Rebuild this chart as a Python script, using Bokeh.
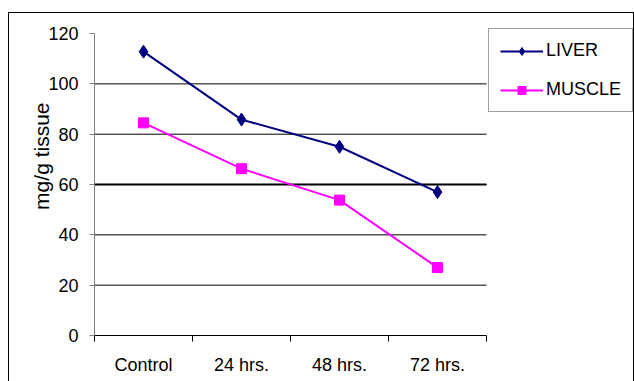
from bokeh.plotting import figure
from bokeh.models import (FixedTicker, Legend, LegendItem, Range1d, Title,
                          InlineStyleSheet)
from bokeh.embed import file_html
from bokeh.resources import INLINE

categories = ["Control", "24 hrs.", "48 hrs.", "72 hrs."]
liver = [112.8, 85.8, 75.0, 57.0]
muscle = [84.5, 66.3, 53.8, 27.0]
y_ticks = [0, 20, 40, 60, 80, 100, 120]
grid_ticks = [20, 40, 60, 80, 100]
y_label = "mg/g tissue"

FONT = "Liberation Sans"
n = len(categories)

# frame extends to the right / top so the legend can sit inside it
p = figure(width=634, height=381, output_backend="svg", toolbar_location=None,
           x_range=Range1d(0, 5.51), y_range=Range1d(0, 122.4),
           min_border_left=94, min_border_right=0, min_border_top=27,
           min_border_bottom=46)
p.outline_line_color = None
p.background_fill_color = "white"
p.border_fill_color = "white"
p.grid.visible = False

xs = [i + 0.5 for i in range(n)]

# horizontal gridlines limited to the category extent
p.segment(x0=[0] * len(grid_ticks), x1=[n] * len(grid_ticks),
          y0=grid_ticks, y1=grid_ticks, line_color="black", line_width=1)
p.segment(x0=[0], x1=[n], y0=[grid_ticks[2]], y1=[grid_ticks[2]],
          line_color="black", line_width=2)

l1 = p.line(xs, liver, line_color="#000080", line_width=2)
m1 = p.scatter(xs, liver, marker="diamond", size=13, fill_color="#000080", line_color="#000080")
l2 = p.line(xs, muscle, line_color="#FF00FF", line_width=2)
m2 = p.scatter(xs, muscle, marker="square", size=10, fill_color="#FF00FF", line_color="#FF00FF")

# x axis
p.xaxis.bounds = (0, n)
p.xaxis.ticker = FixedTicker(ticks=xs, minor_ticks=list(range(n + 1)))
p.xaxis.major_label_overrides = {x: c for x, c in zip(xs, categories)}
p.xaxis.major_tick_out = 0
p.xaxis.major_tick_in = 0
p.xaxis.minor_tick_out = 6
p.xaxis.minor_tick_in = 0
p.xaxis.minor_tick_line_color = "black"
p.xaxis.axis_line_color = "black"
p.xaxis.major_label_text_font = FONT
p.xaxis.major_label_text_font_size = "18px"
p.xaxis.major_label_text_color = "black"
p.xaxis.major_label_standoff = 13

# y axis
p.yaxis.bounds = (y_ticks[0], y_ticks[-1])
p.yaxis.ticker = FixedTicker(ticks=y_ticks, minor_ticks=[])
p.yaxis.major_tick_out = 5
p.yaxis.major_tick_in = 0
p.yaxis.major_tick_line_color = "#808080"
p.yaxis.axis_line_color = "#808080"
p.yaxis.major_label_text_font = FONT
p.yaxis.major_label_text_font_size = "18px"
p.yaxis.major_label_text_color = "black"
p.yaxis.major_label_standoff = 11

ytitle = Title(text=y_label, align="right", offset=75, standoff=-14,
               text_font=FONT, text_font_size="21px", text_font_style="normal",
               text_color="black")
p.add_layout(ytitle, "left")

legend = Legend(items=[LegendItem(label="LIVER", renderers=[l1, m1]),
                       LegendItem(label="MUSCLE", renderers=[l2, m2])],
                location="top_right")
legend.border_line_color = "#404040"
legend.border_line_width = 1.5
legend.label_text_font = FONT
legend.label_text_font_size = "18px"
legend.label_text_color = "black"
legend.glyph_width = 43
legend.glyph_height = 20
legend.label_height = 20
legend.label_standoff = 3
legend.spacing = 18
legend.padding = 11
legend.margin = 1
p.add_layout(legend, "center")

p.stylesheets = [InlineStyleSheet(css=(
    ":host::after { content: ''; position: absolute; left: 8px; top: 12px; "
    "width: 626px; height: 380px; border: 1.5px solid black; "
    "box-sizing: border-box; pointer-events: none; }"))]

open("out.html", "w").write(file_html(p, INLINE))
